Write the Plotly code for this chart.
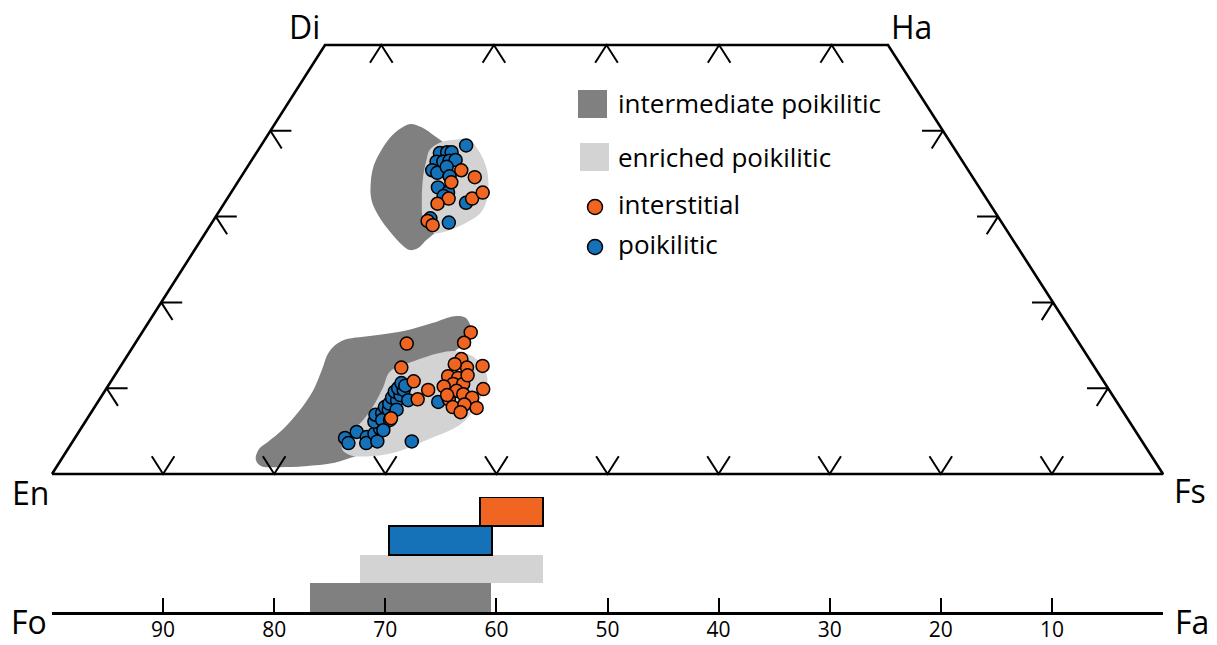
import plotly.graph_objects as go

# ---------------------------------------------------------------------------
# Pyroxene compositions (mol %): Wo and Fs, En = 100 - Wo - Fs
# ---------------------------------------------------------------------------
# poikilitic pyroxene analyses
poik_wo = [38.3, 37.4, 37.5, 37.5, 36.4, 36.4, 36.5, 36.6, 35.4, 35.1, 35.8, 34.7,
           33.4, 32.8, 31.6, 29.3, 29.8, 32.4,
           4.2, 3.6, 4.9, 4.3, 3.6, 4.7, 3.8, 5.3, 5.5, 6.1, 6.9, 7.1, 7.8, 6.3,
           7.5, 8.2, 8.9, 8.6, 9.6, 9.2, 10.0, 9.8, 10.6, 10.3, 7.5, 6.3, 5.1,
           3.8, 8.6, 8.4]
poik_fs = [18.3, 16.4, 17.0, 17.4, 16.6, 17.2, 17.7, 18.2, 16.7, 17.3, 17.8, 18.6,
           18.2, 19.4, 21.6, 21.2, 19.3, 19.2,
           24.3, 24.9, 25.0, 26.2, 26.5, 26.7, 27.4, 26.9, 27.1, 26.0, 25.7, 26.2,
           26.1, 26.6, 26.6, 26.3, 26.2, 26.8, 26.1, 26.8, 26.2, 26.8, 26.2, 26.7,
           27.3, 27.3, 27.3, 30.5, 27.8, 30.6]

# interstitial pyroxene analyses
inter_wo = [35.4, 34.6, 34.0, 32.1, 31.5, 32.1, 32.8, 29.5, 29.0,
            16.5, 15.3, 15.2, 12.4, 10.8, 9.8, 8.7, 6.5, 12.6, 9.9, 13.4, 12.4,
            12.8, 11.4, 11.2, 10.5, 10.5, 10.2, 9.7, 9.3, 8.7, 8.9, 7.8, 8.1,
            7.7, 7.2, 9.2, 11.5]
inter_fs = [19.3, 20.9, 19.1, 19.8, 19.1, 21.9, 22.5, 19.2, 19.9,
            29.5, 29.5, 24.4, 25.3, 27.2, 29.0, 28.6, 27.3, 32.5, 33.9, 30.2, 31.2,
            29.9, 30.0, 31.0, 30.9, 31.8, 30.2, 31.6, 32.4, 31.4, 33.4, 32.2, 33.1,
            34.4, 33.2, 31.0, 31.7]

# field outlines: intermediate poikilitic shergottites
int_hi_wo = [40.8, 40.4, 39.3, 38.2, 37.5, 35.2, 31.4, 29.4, 28.3, 27.3, 26.3,
             26.1, 26.7, 28.2, 30.0, 31.9, 34.0, 36.0, 37.8, 39.4, 40.3]
int_hi_fs = [12.1, 13.3, 15.1, 16.9, 18.8, 20.7, 22.3, 21.7, 20.7, 20.2, 19.9,
             19.3, 18.3, 16.5, 14.6, 13.0, 11.9, 11.2, 11.0, 11.1, 11.5]
int_lo_wo = [1.7, 2.9, 3.8, 5.2, 7.2, 9.6, 12.1, 14.2, 15.5, 16.1, 16.7, 17.6,
             18.4, 18.2, 16.8, 15.2, 14.2, 11.0, 6.3, 3.0, 2.2, 1.3, 0.9, 0.8, 0.9]
int_lo_fs = [17.5, 17.2, 17.6, 18.2, 18.6, 18.7, 18.3, 17.9, 18.4, 20.8, 23.5,
             25.5, 27.1, 28.2, 29.4, 29.8, 29.2, 31.3, 32.7, 29.8, 26.6, 24.8,
             22.3, 19.7, 18.4]

# field outlines: enriched poikilitic shergottites
enr_hi_wo = [37.8, 38.7, 39.0, 38.9, 37.5, 35.4, 32.5, 30.5, 29.3, 28.4, 28.1,
             29.4, 31.9, 34.8, 36.6]
enr_hi_fs = [15.3, 15.9, 17.2, 18.3, 19.9, 21.6, 23.1, 23.5, 22.8, 21.7, 20.4,
             18.9, 17.5, 16.2, 15.6]
enr_lo_wo = [11.9, 13.1, 14.1, 14.3, 13.5, 11.8, 10.4, 8.4, 6.3, 5.4, 4.0, 2.6,
             2.1, 2.2, 3.0, 4.7, 5.9, 7.8, 10.1]
enr_lo_fs = [24.5, 26.0, 27.9, 29.3, 31.4, 33.2, 34.0, 34.2, 34.1, 33.6, 31.8,
             29.8, 27.9, 25.7, 24.6, 24.2, 24.8, 25.0, 24.8]

# olivine Fo ranges
olv_groups = ["intermediate poikilitic", "enriched poikilitic", "poikilitic", "interstitial"]
olv_fo_max = [76.8, 72.3, 69.7, 61.5]
olv_fo_min = [60.5, 55.8, 60.4, 55.8]

fo_ticks = [100, 90, 80, 70, 60, 50, 40, 30, 20, 10, 0]
fo_labels = ["", "90", "80", "70", "60", "50", "40", "30", "20", "10", ""]

# ---------------------------------------------------------------------------
# Layout geometry (pixels)
# ---------------------------------------------------------------------------
W, H = 1217, 645
EN_PX, FS_PX, BASE_PY = 52, 1163, 474
DI_PX, HA_PX, TOP_PY = 325, 888, 45
SX = (FS_PX - EN_PX) / 100.0      # px per x unit
SY = (BASE_PY - TOP_PY) / 50.0    # px per Wo unit
DI_X = (DI_PX - EN_PX) / SX
HA_X = (HA_PX - EN_PX) / SX

DARK = "rgb(128,128,128)"
LIGHT = "rgb(211,211,211)"
ORANGE = "rgb(241,101,34)"
BLUE = "rgb(22,114,184)"
FONT = "Open Sans"


def project(wo, fs):
    """Quadrilateral coordinates from Wo and Fs (mol %)."""
    r = fs / (100.0 - wo)
    xl = DI_X * wo / 50.0
    xr = 100.0 - (100.0 - HA_X) * wo / 50.0
    return xl + r * (xr - xl), wo


def project_all(wos, fss, close=False):
    xs, ys = [], []
    for w, f in zip(wos, fss):
        x, y = project(w, f)
        xs.append(x)
        ys.append(y)
    if close:
        xs.append(xs[0])
        ys.append(ys[0])
    return xs, ys


def unit(dx, dy):
    n = (dx * dx + dy * dy) ** 0.5
    return dx / n, dy / n


# pixel directions of the sloping sides (screen y downward)
LEFT_UP = unit(DI_PX - EN_PX, TOP_PY - BASE_PY)
RIGHT_UP = unit(HA_PX - FS_PX, TOP_PY - BASE_PY)
TICK = 21.0


def arm(x, y, d):
    return x + TICK * d[0] / SX, y - TICK * d[1] / SY


fig = go.Figure()

# composition fields
for wos, fss, col in [(int_hi_wo, int_hi_fs, DARK), (int_lo_wo, int_lo_fs, DARK),
                      (enr_hi_wo, enr_hi_fs, LIGHT), (enr_lo_wo, enr_lo_fs, LIGHT)]:
    xs, ys = project_all(wos, fss, close=True)
    fig.add_trace(go.Scatter(x=xs, y=ys, mode="lines", fill="toself",
                             fillcolor=col, line=dict(width=0, shape="spline", smoothing=1.0),
                             hoverinfo="skip", showlegend=False))

# quadrilateral frame
corner_wo = [0, 0, 50, 50, 0]
corner_fs = [0, 100, 50, 0, 0]
fx, fy = project_all(corner_wo, corner_fs)
fig.add_trace(go.Scatter(x=fx, y=fy, mode="lines", line=dict(color="black", width=2.6),
                         hoverinfo="skip", showlegend=False))

# tick marks
tx, ty = [], []
for k in range(1, 10):                       # bottom edge, every 10 %
    x, y = project(0, k * 10)
    a = arm(x, y, LEFT_UP)
    b = arm(x, y, RIGHT_UP)
    tx += [a[0], x, b[0], None]
    ty += [a[1], y, b[1], None]
for k in (1, 3, 5, 7, 9):                    # top edge
    x, y = project(50, k * 5)
    a = arm(x, y, (-LEFT_UP[0], -LEFT_UP[1]))
    b = arm(x, y, (-RIGHT_UP[0], -RIGHT_UP[1]))
    tx += [a[0], x, b[0], None]
    ty += [a[1], y, b[1], None]
for w in (10, 20, 30, 40):                   # sloping sides
    x, y = project(w, 0)
    a = arm(x, y, (1.0, 0.0))
    b = arm(x, y, (-RIGHT_UP[0], -RIGHT_UP[1]))
    tx += [a[0], x, b[0], None]
    ty += [a[1], y, b[1], None]
    x, y = project(w, 100 - w)
    a = arm(x, y, (-1.0, 0.0))
    b = arm(x, y, (-LEFT_UP[0], -LEFT_UP[1]))
    tx += [a[0], x, b[0], None]
    ty += [a[1], y, b[1], None]
fig.add_trace(go.Scatter(x=tx, y=ty, mode="lines", line=dict(color="black", width=2),
                         hoverinfo="skip", showlegend=False))

# analyses
px_, py_ = project_all(poik_wo, poik_fs)
fig.add_trace(go.Scatter(x=px_, y=py_, mode="markers", name="poikilitic",
                         marker=dict(size=13, color=BLUE, line=dict(color="black", width=1.5)),
                         showlegend=False))
ix_, iy_ = project_all(inter_wo, inter_fs)
fig.add_trace(go.Scatter(x=ix_, y=iy_, mode="markers", name="interstitial",
                         marker=dict(size=13, color=ORANGE, line=dict(color="black", width=1.5)),
                         showlegend=False))

# olivine Fo ranges
fig.add_trace(go.Bar(
    y=olv_groups,
    x=[hi - lo for hi, lo in zip(olv_fo_max, olv_fo_min)],
    base=olv_fo_min,
    orientation="h", width=1.0,
    marker=dict(color=[DARK, LIGHT, BLUE, ORANGE],
                line=dict(color="black", width=[0, 0, 2, 2])),
    xaxis="x2", yaxis="y2", hoverinfo="skip", showlegend=False))


def paper(x, y):
    return x / W, 1 - y / H


shapes = []
# legend keys
for (x0, y0, x1, y1), col in [((578, 90, 607, 118), DARK), ((580, 143, 609, 171), LIGHT)]:
    a = paper(x0, y0)
    b = paper(x1, y1)
    shapes.append(dict(type="rect", xref="paper", yref="paper", x0=a[0], y0=b[1],
                       x1=b[0], y1=a[1], fillcolor=col, line=dict(width=0)))
for (cx, cy), col in [((595, 207), ORANGE), ((595, 247), BLUE)]:
    a = paper(cx - 7.5, cy - 7.5)
    b = paper(cx + 7.5, cy + 7.5)
    shapes.append(dict(type="circle", xref="paper", yref="paper", x0=a[0], y0=b[1],
                       x1=b[0], y1=a[1], fillcolor=col, line=dict(color="black", width=1.5)))

annotations = []
for text, (x, y) in [("intermediate poikilitic", (616, 103)), ("enriched poikilitic", (616, 157)),
                     ("interstitial", (616, 204)), ("poikilitic", (616, 244))]:
    p = paper(x, y)
    annotations.append(dict(text=text, x=p[0], y=p[1], xref="paper", yref="paper",
                            xanchor="left", yanchor="middle", showarrow=False,
                            font=dict(family=FONT, size=26, color="black")))
for text, (x, y) in [("Di", (304, 26)), ("Ha", (911, 26)), ("En", (30, 492)),
                     ("Fs", (1190, 490)), ("Fo", (29, 621)), ("Fa", (1192, 621))]:
    p = paper(x, y)
    annotations.append(dict(text=text, x=p[0], y=p[1], xref="paper", yref="paper",
                            xanchor="center", yanchor="middle", showarrow=False,
                            borderpad=0,
                            font=dict(family=FONT, size=32, color="black")))

fig.update_layout(
    width=W, height=H,
    margin=dict(l=0, r=0, t=0, b=0, autoexpand=False),
    paper_bgcolor="white", plot_bgcolor="rgba(0,0,0,0)",
    showlegend=False, bargap=0,
    shapes=shapes, annotations=annotations,
    xaxis=dict(domain=[0, 1], range=[-EN_PX / SX, (W - EN_PX) / SX], visible=False,
               fixedrange=True, automargin=False),
    yaxis=dict(domain=[0, 1], range=[-(H - BASE_PY) / SY, BASE_PY / SY], visible=False,
               fixedrange=True, automargin=False),
    xaxis2=dict(domain=[EN_PX / W, FS_PX / W], range=[100, 0], anchor="y2",
                showline=True, linecolor="black", linewidth=2.5,
                ticks="inside", ticklen=14, tickwidth=2, tickcolor="black",
                tickvals=fo_ticks, ticktext=fo_labels, ticklabelstandoff=-3,
                tickfont=dict(family=FONT, size=21, color="black"),
                showgrid=False, zeroline=False, fixedrange=True, automargin=False),
    yaxis2=dict(domain=[(H - 612) / H, (H - 497) / H], anchor="x2", type="category",
                categoryorder="array", categoryarray=olv_groups, range=[-0.5, 3.5],
                visible=False, fixedrange=True, automargin=False),
)

fig.write_html("out.html")
